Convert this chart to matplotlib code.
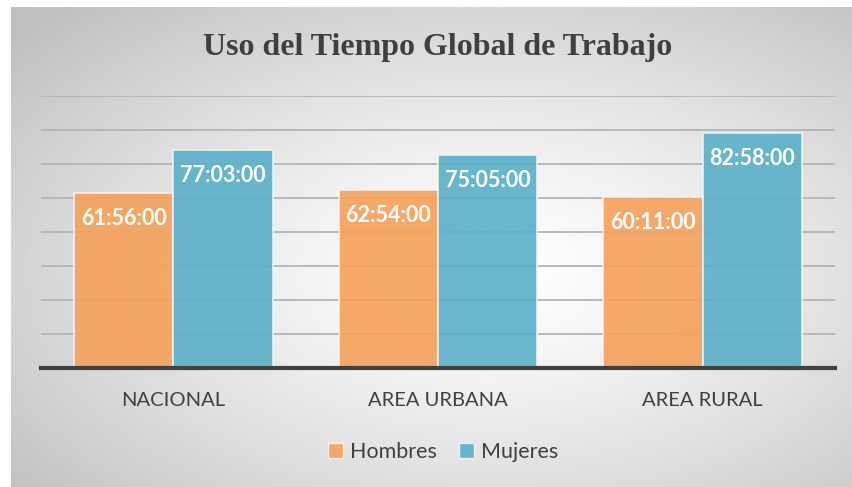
import numpy as np
import matplotlib.pyplot as plt
from matplotlib.patches import Patch

# Datos (horas:minutos:segundos)
categorias = ['NACIONAL', 'AREA URBANA', 'AREA RURAL']
hombres = ['61:56:00', '62:54:00', '60:11:00']
mujeres = ['77:03:00', '75:05:00', '82:58:00']
series = ['Hombres', 'Mujeres']
colores = ['#F5A25D', '#5BB1C9']


def a_horas(t):
    h, m, s = [int(x) for x in t.split(':')]
    return h + m / 60 + s / 3600


fig = plt.figure(figsize=(8.52, 4.87), dpi=100)
fig.patch.set_facecolor('white')

# Fondo con degradado radial
bg = fig.add_axes([11 / 852, 0, 1 - 11 / 852, 1 - 7 / 487], zorder=0)
yy, xx = np.mgrid[0:1:300j, 0:1:500j]
r = np.sqrt(((xx - 0.57) / 0.75) ** 2 + ((yy - 0.45) / 0.75) ** 2)
img = 1 - 0.25 * np.clip(r, 0, 1) ** 1.3
bg.imshow(img, cmap='gray', vmin=0, vmax=1, aspect='auto',
          extent=[0, 1, 0, 1], origin='lower')
bg.axis('off')

ax = fig.add_axes([41 / 852, 1 - 368 / 487, (835 - 41) / 852, (368 - 96) / 487], zorder=1)
ax.patch.set_alpha(0)

x = np.arange(len(categorias))
w = 0.375
vals = [[a_horas(t) for t in hombres], [a_horas(t) for t in mujeres]]
labels = [hombres, mujeres]
for i in range(2):
    pos = x + (i - 0.5) * w
    ax.bar(pos, vals[i], width=w, color=colores[i], alpha=0.92,
           edgecolor='#f4f4f4', linewidth=1.2, zorder=2)
    for px, v, lab in zip(pos, vals[i], labels[i]):
        ax.text(px, v - 9.0, lab, ha='center', va='center', color='white',
                fontsize=15.5, fontweight='bold', family='Lato', zorder=3)

ax.set_xlim(-0.5, 2.5)
ax.set_ylim(0, 96)
ax.set_yticks(np.arange(0, 97, 12))
ax.yaxis.grid(True, color='#b4b4b4', linewidth=1.3, zorder=1)
ax.set_axisbelow(True)
ax.tick_params(left=False, labelleft=False, bottom=False)
for s in ['top', 'right', 'left']:
    ax.spines[s].set_visible(False)
ax.spines['bottom'].set_color('#404040')
ax.spines['bottom'].set_linewidth(3)
ax.spines['bottom'].set_zorder(4)
ax.set_xticks(x)
ax.set_xticklabels(categorias, fontsize=14.5, color='#404040', family='Lato')
ax.tick_params(axis='x', pad=14)

fig.text(438 / 852, 1 - 48 / 487, 'Uso del Tiempo Global de Trabajo',
         ha='center', va='center', fontsize=23, fontweight='bold',
         family='Liberation Serif', color='#404040')

handles = [Patch(facecolor=c, edgecolor='#f4f4f4', alpha=0.92) for c in colores]
fig.legend(handles, series, loc='center', bbox_to_anchor=(443 / 852, 1 - 452 / 487),
           ncol=2, frameon=False, prop={'family': 'Lato', 'size': 15.5},
           labelcolor='#404040', handlelength=0.7, handleheight=0.7,
           handletextpad=0.3, columnspacing=1.05)

fig.savefig('out.png', dpi=100)
